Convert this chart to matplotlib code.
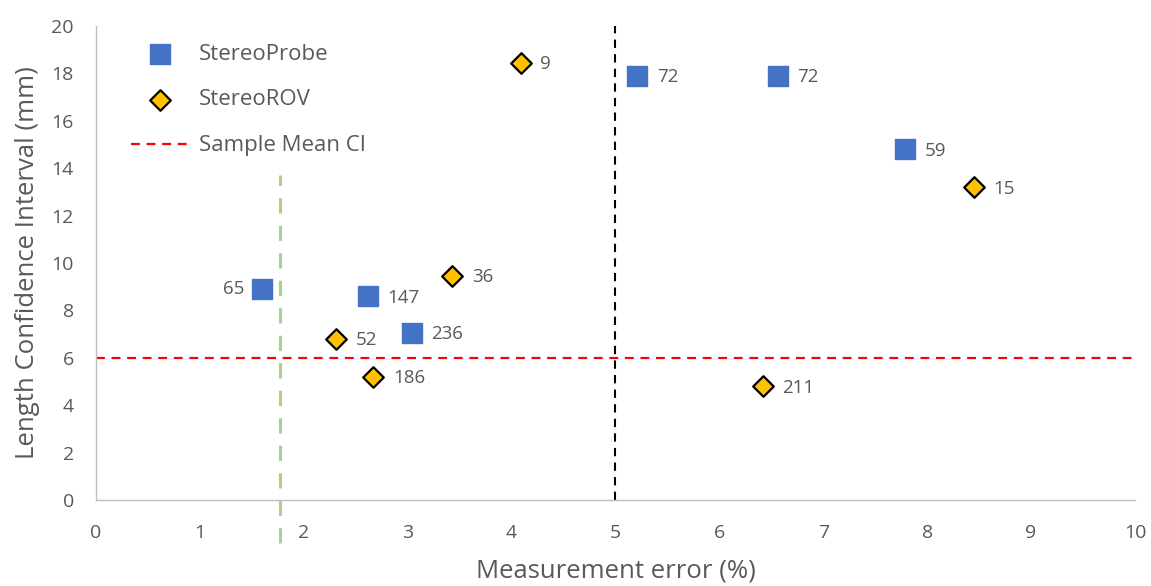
import matplotlib
matplotlib.use("Agg")
import matplotlib.pyplot as plt

plt.rcParams['font.family'] = ['Open Sans', 'DejaVu Sans']

probe_x = [1.60, 2.62, 3.04, 5.21, 6.56, 7.79]
probe_y = [8.9, 8.6, 7.05, 17.9, 17.9, 14.8]
probe_labels = ["65", "147", "236", "72", "72", "59"]

rov_x = [4.09, 3.43, 2.31, 2.67, 6.42, 8.45]
rov_y = [18.44, 9.45, 6.8, 5.2, 4.8, 13.2]
rov_labels = ["9", "36", "52", "186", "211", "15"]

sample_mean_ci = 6.0
green_x = 1.77
green_y = [-1.8, 13.7]
black_x = 5.0

x_ticks = list(range(0, 11))
y_ticks = list(range(0, 21, 2))

gray = "#595959"
fig = plt.figure(figsize=(11.51, 5.86), dpi=100)
ax = fig.add_axes([0.0834, 0.1468, 0.9026, 0.8088])

ax.axhline(sample_mean_ci, color="#FF0000", ls=(0, (4, 3)), lw=1.6, label="Sample Mean CI", zorder=2)
ax.plot([green_x, green_x], green_y, color="#A9D18E", ls=(0, (5, 4)), lw=2.2, clip_on=False, zorder=2)
ax.axvline(black_x, color="black", ls=(0, (4, 3)), lw=1.5, zorder=2)

ax.scatter(probe_x, probe_y, marker="s", s=200, color="#4472C4", edgecolors="#4472C4", label="StereoProbe", zorder=3)
ax.scatter(rov_x, rov_y, marker="D", s=110, color="#FFC000", edgecolors="black", linewidths=1.6, label="StereoROV", zorder=3)

for x, y, t in zip(probe_x, probe_y, probe_labels):
    if t == "65":
        ax.annotate(t, (x, y), xytext=(-13, 0), textcoords="offset points", ha="right", va="center", fontsize=13.5, color=gray)
    else:
        ax.annotate(t, (x, y), xytext=(14, -1), textcoords="offset points", ha="left", va="center", fontsize=13.5, color=gray)
for x, y, t in zip(rov_x, rov_y, rov_labels):
    ax.annotate(t, (x, y), xytext=(14, -1), textcoords="offset points", ha="left", va="center", fontsize=13.5, color=gray)

ax.set_xlim(0, 10)
ax.set_ylim(0, 20)
ax.set_xticks(x_ticks)
ax.set_yticks(y_ticks)
ax.tick_params(length=0, labelsize=14, colors=gray)
ax.tick_params(axis="x", pad=17)
ax.tick_params(axis="y", pad=16)
for s in ["top", "right"]:
    ax.spines[s].set_visible(False)
for s in ["left", "bottom"]:
    ax.spines[s].set_color("#BFBFBF")
    ax.spines[s].set_linewidth(1.0)

ax.set_xlabel("Measurement error (%)", fontsize=18.5, color=gray, labelpad=12)
ax.set_ylabel("Length Confidence Interval (mm)", fontsize=18.5, color=gray, labelpad=8)

handles, labels = ax.get_legend_handles_labels()
order = [labels.index("StereoProbe"), labels.index("StereoROV"), labels.index("Sample Mean CI")]
leg = ax.legend([handles[i] for i in order], [labels[i] for i in order], loc="upper left",
                bbox_to_anchor=(0.034, 0.963), frameon=False, fontsize=16, labelcolor=gray,
                handlelength=2.6, labelspacing=1.12, handletextpad=0.45, borderpad=0,
                borderaxespad=0, markerscale=1.0)

fig.savefig("out.png", dpi=100)
